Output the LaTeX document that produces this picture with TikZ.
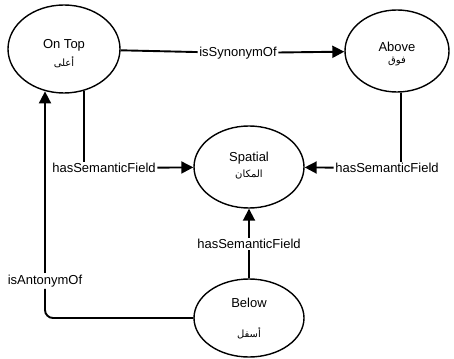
\documentclass[tikz,border=0pt]{standalone}
\usepackage{fontspec}
\setmainfont{Liberation Sans}
\newfontfamily\arabicfont[Script=Arabic]{DejaVu Sans}
\TeXXeTstate=1
\usetikzlibrary{shapes.geometric,arrows.meta}
\tikzset{
  ell/.style={draw, ellipse, line width=1.4pt, inner sep=0pt},
  txt/.style={font=\fontsize{13}{15}\selectfont, inner sep=0pt},
  artxt/.style={font=\arabicfont\fontsize{10}{12}\selectfont, inner sep=0pt},
  lbl/.style={font=\fontsize{13}{15}\selectfont, inner sep=1.5pt},
  conn/.style={line width=1.9pt},
  arr/.style={conn, -{Triangle[length=12pt,width=12pt]}}
}
\begin{document}
\begin{tikzpicture}[x=1pt,y=-1pt]
\useasboundingbox (0,0) rectangle (454,358);
% ellipses
\node[ell, minimum width=112pt, minimum height=88pt] (ontop) at (64,49) {};
\node[ell, minimum width=104pt, minimum height=82pt] (above) at (397,51) {};
\node[ell, minimum width=110pt, minimum height=82pt] (spatial) at (249,167) {};
\node[ell, minimum width=110pt, minimum height=78pt] (below) at (249,318) {};
% texts in ellipses
\node[txt] (ontopT) at (64,45) {On Top};
\node[artxt] (ontopA) at (64,62) {\beginR أعلى\endR};
\node[txt] (aboveT) at (397,47) {Above};
\node[artxt] (aboveA) at (397,62) {\beginR فوق\endR};
\node[txt] (spatialT) at (249,158) {Spatial};
\node[artxt] (spatialA) at (249,175) {\beginR المكان\endR};
\node[txt] (belowT) at (249,303) {Below};
\node[artxt] (belowA) at (249,333) {\beginR أسفل\endR};
% labels
\node[lbl] (syn) at (238,53) {isSynonymOf};
\node[lbl] (hsf1) at (104,168) {hasSemanticField};
\node[lbl] (hsf2) at (387,168) {hasSemanticField};
\node[lbl] (hsf3) at (249,244) {hasSemanticField};
\node[lbl] (anto) at (45,281) {isAntonymOf};
% connectors
\draw[conn] (ontop) -- (syn);
\draw[arr] (syn) -- (above);
\draw[conn] (ontop.-65) -- (ontop.-65 |- hsf1.north);
\draw[arr] (hsf1) -- (spatial);
\draw[conn] (above.-84) -- (above.-84 |- hsf2.north);
\draw[arr] (hsf2) -- (spatial);
\draw[conn] (below) -- (hsf3);
\draw[arr] (hsf3) -- (spatial);
\draw[conn, rounded corners=8pt] (below.west) -| (anto.south);
\draw[arr] (anto.north) -- (anto.north |- ontop.-113);
\end{tikzpicture}
\end{document}
